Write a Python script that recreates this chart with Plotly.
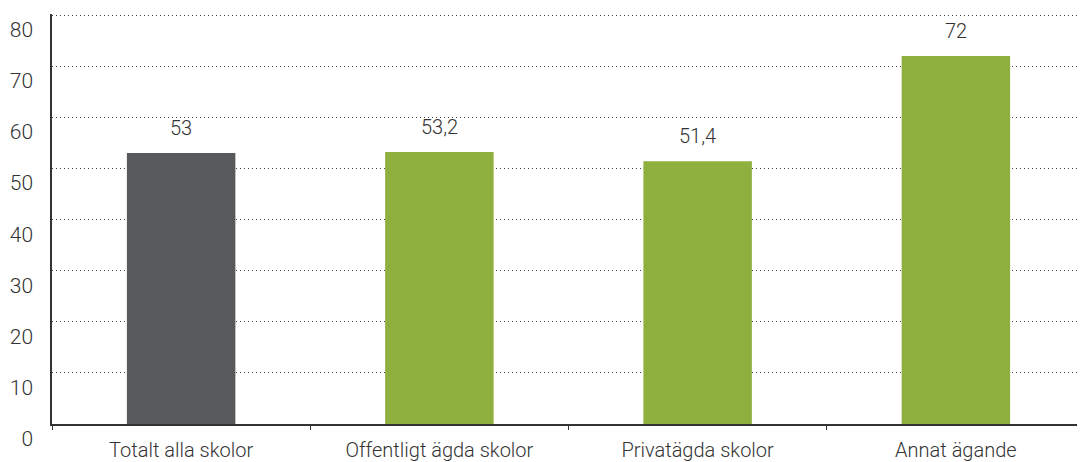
import plotly.graph_objects as go

categories = ["Totalt alla skolor", "Offentligt ägda skolor", "Privatägda skolor", "Annat ägande"]
values = [53, 53.2, 51.4, 72]
value_labels = ["53", "53,2", "51,4", "72"]
bar_colors = ["#58595B", "#8FAF3E", "#8FAF3E", "#8FAF3E"]
y_ticks = [0, 10, 20, 30, 40, 50, 60, 70, 80]

FONT = "Roboto"

fig = go.Figure()
fig.add_trace(go.Bar(
    x=categories, y=values,
    marker=dict(color=bar_colors, line=dict(width=0)),
    width=0.42,
    hoverinfo="skip",
))

for c, v, t in zip(categories, values, value_labels):
    fig.add_annotation(x=c, y=v, text=t, showarrow=False, yanchor="bottom",
                       yshift=11, font=dict(family=FONT, size=20, color="#333333", weight=300))

# page body has an 8px default margin, so the figure is 8px smaller than the window
fig.update_layout(
    width=1077, height=454,
    margin=dict(l=44, r=0, t=6, b=38),
    paper_bgcolor="white", plot_bgcolor="white",
    showlegend=False,
    font=dict(family=FONT, color="#333333", weight=300),
    xaxis=dict(
        showline=True, linecolor="#333333", linewidth=1.5,
        ticks="outside", tickson="boundaries", ticklen=4, tickcolor="#333333",
        tickfont=dict(family=FONT, size=20, color="#333333", weight=300),
        showgrid=False, ticklabelstandoff=7, automargin=False,
    ),
    yaxis=dict(
        range=[0, 80.2], tickvals=y_ticks,
        showline=True, linecolor="#333333", linewidth=1.5,
        showgrid=True, gridcolor="#444444", gridwidth=1, griddash="1px,3px",
        zeroline=False,
        tickfont=dict(family=FONT, size=21, color="#333333", weight=300),
        ticklabelposition="outside bottom", ticklabeloverflow="allow",
        ticklabelstandoff=13, automargin=False,
    ),
)

fig.write_html("out.html")
